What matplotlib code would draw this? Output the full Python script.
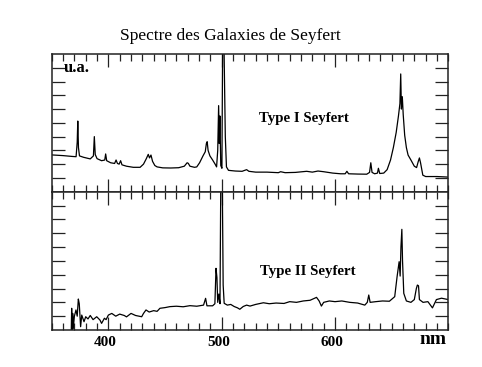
import matplotlib
matplotlib.use('Agg')
import matplotlib.pyplot as plt
from matplotlib.ticker import MultipleLocator, FixedLocator
from matplotlib.transforms import ScaledTranslation

plt.rcParams['font.family'] = ['Liberation Serif', 'DejaVu Serif']

# Seyfert type I spectrum (nm, arbitrary units)
wl_type1 = [350, 360, 368, 371.5, 372.5, 373, 373.6, 374.5, 378, 384, 386.8, 387.6,
            388.4, 390, 394, 396.8, 397.6, 398.5, 402, 405.5, 406.8, 408, 409.5, 410.8,
            412, 416, 422, 428, 431, 433.5, 435.2, 436.3, 437.6, 439, 441, 443, 448,
            455, 462, 467, 469.5, 470.5, 472, 476, 478, 480.5, 483.5, 485.5, 486.5,
            487.2, 488, 489.6, 492, 494.2, 495.5, 496.5, 497.3, 497.9, 498.4, 499.2,
            500.2, 501.0, 501.8, 502.6, 503.2, 504.2, 506, 512, 518, 522, 524, 530,
            540, 550, 552, 556, 565, 575, 580, 585, 590, 598, 605, 609, 610.5, 612,
            620, 628, 630.5, 631.6, 632.7, 635, 637.5, 638.3, 639.5, 643, 646, 649,
            651.5, 654, 656, 657.3, 658.0, 658.6, 659.4, 660.2, 661.5, 663, 664.5,
            667, 670, 672, 673.5, 674.5, 675.5, 677.5, 680, 690, 700]
flux_type1 = [2.67, 2.62, 2.56, 2.54, 3.6, 5.13, 3.2, 2.6, 2.5, 2.38, 2.6, 4.0,
              2.7, 2.4, 2.25, 2.3, 2.74, 2.25, 2.1, 2.05, 2.3, 2.05, 2.0, 2.25,
              1.95, 1.85, 1.77, 1.77, 2.0, 2.4, 2.71, 2.45, 2.66, 2.2, 1.9, 1.8, 1.73,
              1.72, 1.74, 1.85, 2.1, 2.06, 1.85, 1.77, 1.8, 2.1, 2.6, 2.9, 3.5,
              3.63, 3.0, 2.6, 2.3, 2.0, 1.8, 3.0, 6.25, 3.5, 5.5, 1.9,
              1.7, 13, 12, 7.4, 4.0, 1.8, 1.55, 1.5, 1.48, 1.6, 1.48, 1.42,
              1.42, 1.38, 1.45, 1.38, 1.4, 1.48, 1.42, 1.5, 1.45, 1.35, 1.3, 1.3, 1.48, 1.3,
              1.28, 1.27, 1.4, 2.1, 1.4, 1.3, 1.35, 1.7, 1.32, 1.35, 1.6, 2.3,
              3.2, 4.3, 5.5, 6.4, 8.55, 6.0, 6.9, 5.6, 4.1, 3.2, 2.66,
              2.3, 1.85, 1.75, 2.2, 2.45, 2.1, 1.2, 1.1, 1.1, 1.06]

# Seyfert type II spectrum
wl_type2 = [367.2, 367.6, 368.0, 368.5, 369.0, 370.0, 371.4, 372.5, 373.5, 374.3, 375.5,
            376.5, 378.5, 380, 382, 384, 386.5, 389.7, 392.6, 394, 396.5, 398, 400,
            403, 406.5, 410, 414, 416, 420, 424, 429.4, 431, 433.2, 436, 440, 443,
            445.5, 450, 454.3, 460, 466, 472, 478, 484, 485.8, 487, 492, 494, 495,
            495.8, 496.5, 497.5, 498.5, 499.3, 500.4, 501.3, 502.2, 505, 508, 511,
            514, 516, 519, 522, 525, 530, 536.8, 542, 548, 555, 560, 566, 572, 578,
            583.7, 586, 588, 590, 595, 600, 606, 613, 620, 626.3, 628.5, 629.8, 631,
            636, 642, 648, 652.7, 654.8, 656.6, 657.5, 658.2, 659, 659.6, 660.7, 663,
            667, 670, 671.8, 672.7, 673.7, 674.5, 677.7, 682, 686, 689.5, 694, 700]
flux_type2 = [-0.3, 1.57, -0.3, 1.2, 0.1, 1.0, 1.45, 1.0, 2.24, 1.9, 0.24,
              1.08, 0.6, 0.96, 0.8, 1.05, 0.75, 0.96, 0.72, 0.48, 0.85, 0.75, 1.08,
              1.2, 1.0, 1.15, 1.05, 0.95, 1.2, 1.05, 0.96, 1.2, 1.45, 1.3, 1.4, 1.35,
              1.57, 1.62, 1.69, 1.72, 1.68, 1.76, 1.72, 1.8, 2.29, 1.75, 1.75, 1.9, 4.46,
              3.8, 2.0, 2.6, 1.9, 12, 12, 3.25, 1.93, 1.8, 1.85, 1.7,
              1.6, 1.5, 1.7, 1.8, 1.73, 1.85, 1.97, 1.9, 1.95, 1.92, 2.05, 2.0, 2.1, 2.15,
              2.36, 2.1, 1.73, 2.0, 2.1, 2.05, 2.1, 2.0, 1.95, 1.8, 2.0, 2.53, 2.0,
              2.05, 2.1, 2.08, 2.41, 3.86, 4.94, 3.9, 6.0, 7.28, 5.0, 2.65, 2.1,
              2.0, 2.2, 3.0, 3.25, 3.2, 2.2, 2.0, 2.05, 1.6, 2.2, 2.3, 2.2]

major_ticks = [400, 500, 600]
tick_labels = ['400', '500', '600']

fig = plt.figure(figsize=(4.82, 3.67), dpi=100)
ax1 = fig.add_axes([0.1073, 0.4777, 0.8228, 0.3752])
ax2 = fig.add_axes([0.1073, 0.1008, 0.8228, 0.3768])

for ax in (ax1, ax2):
    ax.set_xlim(350, 700)
    ax.set_ylim(0, 10)
    ax.xaxis.set_major_locator(FixedLocator(major_ticks))
    ax.xaxis.set_minor_locator(MultipleLocator(10))
    ax.yaxis.set_major_locator(FixedLocator(range(1, 10)))
    ax.tick_params(which='both', direction='in', top=True, right=True,
                   color='#222222', width=0.9)
    ax.tick_params(axis='x', which='major', length=9.5)
    ax.tick_params(axis='x', which='minor', length=5)
    ax.tick_params(axis='y', which='major', length=9.5)
    for s in ax.spines.values():
        s.set_color('#222222')
        s.set_linewidth(1.1)

ax1.plot(wl_type1, flux_type1, color='black', lw=0.9)
ax2.plot(wl_type2, flux_type2, color='black', lw=0.9)

ax1.tick_params(labelbottom=False, labelleft=False)
ax2.tick_params(labelleft=False)
ax2.set_xticklabels(tick_labels, fontsize=11, fontweight='bold')
ax2.tick_params(axis='x', which='major', pad=4)
shift = ScaledTranslation(-3 / 100, 0, fig.dpi_scale_trans)
for lab in ax2.get_xticklabels():
    lab.set_transform(lab.get_transform() + shift)

ax1.text(573, 5.28, 'Type I Seyfert', ha='center', va='center',
         fontsize=10.7, fontweight='bold')
ax2.text(575.6, 4.23, 'Type II Seyfert', ha='center', va='center',
         fontsize=10.7, fontweight='bold')

fig.text(0.159, 0.815, 'u.a.', ha='center', va='center', fontsize=12, fontweight='bold')
fig.text(0.898, 0.0736, 'nm', ha='center', va='center', fontsize=14, fontweight='bold')
fig.text(0.477, 0.902, 'Spectre des Galaxies de Seyfert', ha='center', va='center',
         fontsize=12.5)

fig.savefig('out.png', dpi=100)
